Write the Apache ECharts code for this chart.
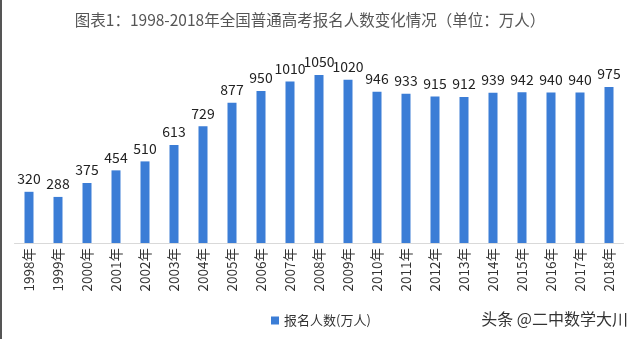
<!DOCTYPE html>
<html><head><meta charset="utf-8">
<script src="https://cdn.jsdelivr.net/npm/echarts@6/dist/echarts.min.js"></script>
<style>html,body{margin:0;padding:0;background:#fff}#c{width:640px;height:339px}</style>
</head><body><div id="c"></div>
<script>
const categories = ['1998年','1999年','2000年','2001年','2002年','2003年','2004年','2005年','2006年','2007年','2008年','2009年','2010年','2011年','2012年','2013年','2014年','2015年','2016年','2017年','2018年'];
const applicants = [320,288,375,454,510,613,729,877,950,1010,1050,1020,946,933,915,912,939,942,940,940,975];
const seriesName = '报名人数(万人)';
const titleText = '图表1：1998-2018年全国普通高考报名人数变化情况（单位：万人）';
const watermark = '头条 @二中数学大川';
const FONT = '"Noto Sans CJK SC", "Noto Sans", sans-serif';

const chart = echarts.init(document.getElementById('c'), null, {renderer:'canvas'});
chart.setOption({
  animation: false,
  backgroundColor: '#fff',
  title: {
    text: titleText, left: 305, top: 7, textAlign: 'center',
    textStyle: {fontFamily: FONT, fontSize: 15.5, fontWeight: 'normal', color: '#555'}
  },
  legend: {
    data: [seriesName], left: 266, top: 309,
    itemWidth: 8, itemHeight: 8, itemGap: 4, icon: 'rect',
    textStyle: {fontFamily: FONT, fontSize: 13, color: '#333'}
  },
  grid: {left: 14.5, right: 16.5, top: 51, bottom: 96},
  xAxis: {
    type: 'category', data: categories,
    axisLine: {lineStyle: {color: '#d9d9d9', width: 1}},
    axisTick: {show: false},
    axisLabel: {rotate: 90, interval: 0, margin: 5, fontFamily: FONT, fontSize: 13.5, color: '#333'}
  },
  yAxis: {type: 'value', min: 0, max: 1200, show: false, splitLine: {show: false}},
  series: [{
    name: seriesName, type: 'bar', data: applicants, barWidth: 9,
    itemStyle: {color: '#3b7dd6'},
    label: {show: true, position: 'top', distance: 6, fontFamily: FONT, fontSize: 14, color: '#222'}
  }],
  graphic: [
    {type: 'rect', left: 0, top: 0, shape: {width: 2, height: 339}, style: {fill: '#555'}},
    {type: 'text', right: 12, top: 311, style: {text: watermark, fontFamily: FONT, fontSize: 16, fill: '#333'}}
  ]
});
</script></body></html>
